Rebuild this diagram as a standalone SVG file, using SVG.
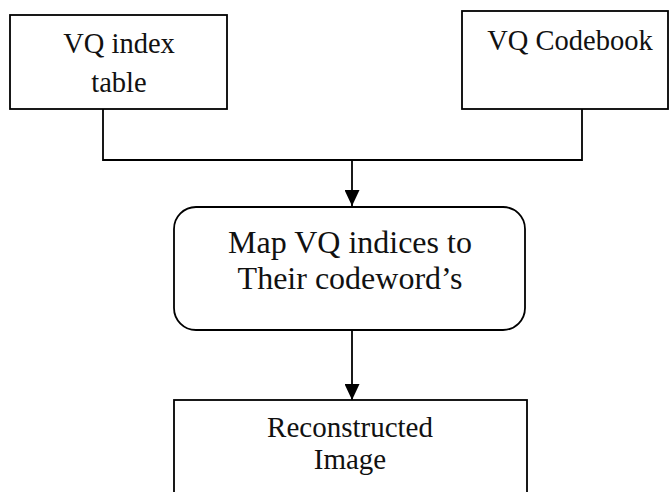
<svg xmlns="http://www.w3.org/2000/svg" width="670" height="492" viewBox="0 0 670 492">
<defs>
<style>
.box{fill:#fff;stroke:#000;stroke-width:1.8}
.ln{fill:none;stroke:#000;stroke-width:1.8}
.t{font-family:"Liberation Serif","Times New Roman",serif;fill:#111;text-anchor:middle}
</style>
<marker id="ah" viewBox="0 0 16 15" refX="16" refY="7.5" markerWidth="16" markerHeight="15" markerUnits="userSpaceOnUse" orient="auto">
<path d="M0,0 L16,7.5 L0,15 Z" fill="#000"/>
</marker>
</defs>
<rect width="670" height="492" fill="#fff"/>
<g id="connectors">
<polyline class="ln" points="103,109 103,160 582,160 582,109"/>
<line class="ln" x1="352" y1="160" x2="352" y2="206" marker-end="url(#ah)"/>
<line class="ln" x1="352" y1="330" x2="352" y2="400" marker-end="url(#ah)"/>
</g>
<g id="vq-index-table">
<rect class="box" x="10" y="15" width="217" height="94"/>
<text class="t" x="119" y="53" font-size="28.5">VQ index</text>
<text class="t" x="119" y="92" font-size="28.5">table</text>
</g>
<g id="vq-codebook">
<rect class="box" x="462" y="11" width="206" height="98"/>
<text class="t" x="570" y="50" font-size="28.5">VQ Codebook</text>
</g>
<g id="map-indices">
<rect class="box" x="174" y="207" width="351" height="123" rx="22" ry="22"/>
<text class="t" x="350" y="253" font-size="32">Map VQ indices to</text>
<text class="t" x="350" y="289" font-size="32">Their codeword’s</text>
</g>
<g id="reconstructed-image">
<rect class="box" x="174" y="400" width="353" height="110"/>
<text class="t" x="350" y="437" font-size="29">Reconstructed</text>
<text class="t" x="350" y="469" font-size="29">Image</text>
</g>
</svg>
